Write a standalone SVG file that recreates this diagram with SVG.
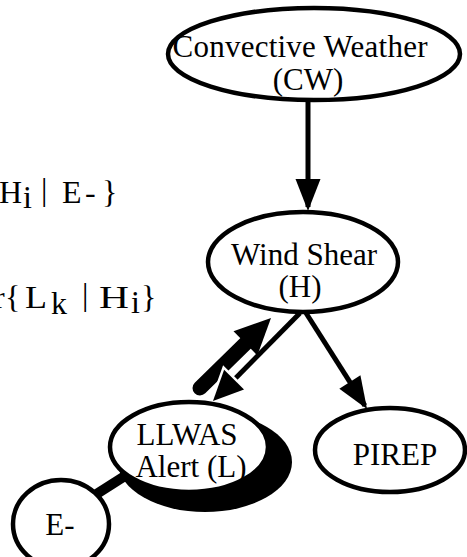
<svg xmlns="http://www.w3.org/2000/svg" width="467" height="557" viewBox="0 0 467 557">
<style>
.node{fill:#fff;stroke:#000;stroke-width:4.5}
.lbl{font-family:"Liberation Serif","Times New Roman",serif;font-size:31px;fill:#000;text-anchor:middle}
.eq{font-family:"Liberation Serif","Times New Roman",serif;font-size:32px;fill:#000}
.edge{stroke:#000;stroke-width:5;fill:none}
</style>
<defs>
<marker id="head" markerUnits="userSpaceOnUse" markerWidth="32" markerHeight="26" refX="28" refY="12.5" orient="auto" overflow="visible">
<path d="M0,0 L32,12.5 L0,25 Z" fill="#000"/>
</marker>
<marker id="headHalo" markerUnits="userSpaceOnUse" markerWidth="32" markerHeight="30" refX="26" refY="14" orient="auto" overflow="visible">
<path d="M0,0 L30,14 L0,28 Z" fill="#000" stroke="#fff" stroke-width="5" paint-order="stroke"/>
</marker>
</defs>
<rect width="467" height="557" fill="#fff"/>
<g id="formulas">
<text class="eq" x="-1" y="203">H</text>
<text class="eq" x="23" y="208" font-size="28">i</text>
<text class="eq" x="41" y="200" font-size="18">|</text>
<text class="eq" x="62" y="203">E</text>
<text class="eq" x="85" y="203">-</text>
<text class="eq" x="102" y="203">}</text>
<text class="eq" x="-6" y="308">r</text>
<text class="eq" x="5" y="308">{</text>
<text class="eq" x="25" y="308" font-size="34" textLength="22" lengthAdjust="spacingAndGlyphs">L</text>
<text class="eq" x="51" y="314" font-size="27">k</text>
<text class="eq" x="82" y="305" font-size="18">|</text>
<text class="eq" x="99" y="308" font-size="34" textLength="30" lengthAdjust="spacingAndGlyphs">H</text>
<text class="eq" x="131" y="313" font-size="28">i</text>
<text class="eq" x="141" y="308">}</text>
</g>
<g id="connectors">
<line class="edge" x1="308" y1="100" x2="308" y2="207" marker-end="url(#head)"/>
<line class="edge" x1="306" y1="313" x2="364.9" y2="405.6" marker-end="url(#head)"/>
<line x1="200" y1="388" x2="248.5" y2="340.5" stroke="#000" stroke-width="15" stroke-linecap="round"/>
<polygon points="271,318 257.3,355.4 233.5,331.2" fill="#000"/>
<line class="edge" x1="300" y1="313" x2="215.8" y2="398.2" marker-end="url(#headHalo)"/>
<line x1="95" y1="495" x2="128" y2="474" stroke="#000" stroke-width="10"/>
</g>
<g id="cw">
<ellipse class="node" cx="314" cy="54" rx="146" ry="46"/>
<text class="lbl" x="300" y="57" font-size="30" textLength="255">Convective Weather</text>
<text class="lbl" x="308" y="90" font-size="30">(CW)</text>
</g>
<g id="windshear">
<ellipse class="node" cx="303" cy="262" rx="95" ry="50"/>
<text class="lbl" x="304" y="265" font-size="30">Wind Shear</text>
<text class="lbl" x="300" y="297" font-size="30">(H)</text>
</g>
<g id="llwas">
<ellipse cx="205" cy="462" rx="87" ry="50" fill="#000"/>
<ellipse class="node" cx="189" cy="447" rx="79" ry="45"/>
<text class="lbl" x="187" y="445">LLWAS</text>
<text class="lbl" x="191" y="477" font-size="30">Alert (L)</text>
</g>
<g id="pirep">
<ellipse class="node" cx="390" cy="450" rx="75" ry="42"/>
<text class="lbl" x="395" y="465">PIREP</text>
</g>
<g id="eminus">
<ellipse class="node" cx="61" cy="524" rx="48" ry="44"/>
<text class="lbl" x="60" y="535" font-size="38">E-</text>
</g>
</svg>
